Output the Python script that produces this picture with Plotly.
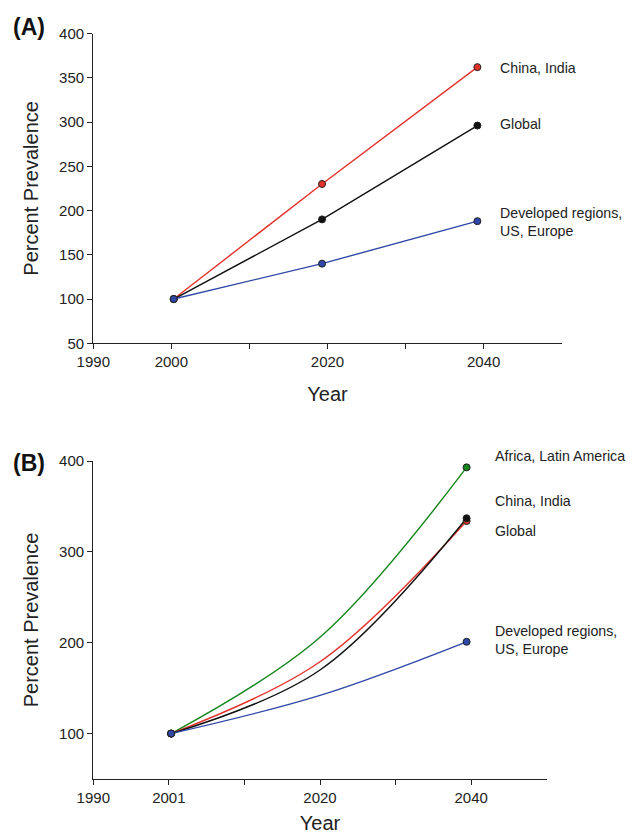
import plotly.graph_objects as go

W, H = 633, 834

# ---- Data: panel A ----
years_a = [2000.3, 2019.3, 2039.2]
china_india_a = [100, 230, 362]
global_a = [100, 190, 296]
developed_a = [100, 140, 188]

# ---- Data: panel B ----
years_b = [2000.3, 2020, 2039.4]
africa_latam_b = [100, 206, 393]
china_india_b = [100, 179, 334]
global_b = [100, 170, 337]
developed_b = [100, 142, 201]

x_tickvals = [1990, 2000, 2010, 2020, 2030, 2040]
x_ticktext_a = ["1990", "2000", "", "2020", "", "2040"]
x_ticktext_b = ["1990", "2001", "", "2020", "", "2040"]
y_ticks_a = [50, 100, 150, 200, 250, 300, 350, 400]
y_ticks_b = [100, 200, 300, 400]

RED = "#e3322b"
BLACK = "#111111"
BLUE = "#2f47a6"
GREEN = "#14861c"
FONT = "Liberation Sans, Arial, sans-serif"
TXT = "#222222"


def px(x):
    return x / W


def py(y):
    return 1 - y / H


fig = go.Figure()

# Panel A traces
for yv, col in [(china_india_a, RED), (global_a, BLACK), (developed_a, BLUE)]:
    fig.add_trace(go.Scatter(
        x=years_a, y=yv, mode="lines+markers", xaxis="x", yaxis="y",
        line=dict(color=col, width=1.4),
        marker=dict(size=7, color=col, line=dict(color="#222222", width=1)),
        showlegend=False, hoverinfo="x+y"))

# Panel B traces
for yv, col in [(africa_latam_b, GREEN), (china_india_b, RED), (global_b, BLACK), (developed_b, BLUE)]:
    fig.add_trace(go.Scatter(
        x=years_b, y=yv, mode="lines", xaxis="x2", yaxis="y2",
        line=dict(color=col, width=1.4, shape="spline", smoothing=1.0),
        showlegend=False, hoverinfo="x+y"))
for yv, col in [(africa_latam_b, GREEN), (china_india_b, RED), (global_b, BLACK), (developed_b, BLUE)]:
    fig.add_trace(go.Scatter(
        x=[years_b[0], years_b[-1]], y=[yv[0], yv[-1]], mode="markers",
        xaxis="x2", yaxis="y2",
        marker=dict(size=7, color=col, line=dict(color="#222222", width=1)),
        showlegend=False, hoverinfo="x+y"))

axis_common = dict(
    showgrid=False, zeroline=False, showline=True, linecolor="#222222",
    linewidth=1.3, ticks="outside", ticklen=5, tickwidth=1.2, tickcolor="#222222",
    tickfont=dict(family=FONT, size=15, color=TXT), automargin=False,
)

fig.update_layout(
    width=W, height=H,
    margin=dict(l=0, r=0, t=0, b=0, autoexpand=False),
    paper_bgcolor="white", plot_bgcolor="white",
    font=dict(family=FONT, color=TXT),
    xaxis=dict(domain=[px(93.3), px(561.7)], range=[1990, 2050], anchor="y",
               tickmode="array", tickvals=x_tickvals, ticktext=x_ticktext_a,
               title=dict(text="Year", font=dict(family=FONT, size=20, color=TXT), standoff=17),
               **axis_common),
    yaxis=dict(domain=[py(343.3), py(33.5)], range=[50, 400], anchor="x",
               tickmode="array", tickvals=y_ticks_a,
               title=dict(text="Percent Prevalence", font=dict(family=FONT, size=20, color=TXT), standoff=15),
               **axis_common),
    xaxis2=dict(domain=[px(93.3), px(546.7)], range=[1990, 2050], anchor="y2",
                tickmode="array", tickvals=x_tickvals, ticktext=x_ticktext_b,
                title=dict(text="Year", font=dict(family=FONT, size=20, color=TXT), standoff=12),
                **axis_common),
    yaxis2=dict(domain=[py(779), py(461)], range=[50, 400], anchor="x2",
                tickmode="array", tickvals=y_ticks_b,
                title=dict(text="Percent Prevalence", font=dict(family=FONT, size=20, color=TXT), standoff=15),
                **axis_common),
)

labels = [
    ("China, India", 497.7, 67.7),
    ("Global", 497.7, 124.3),
    ("Developed regions,<br>US, Europe", 497.7, 221.7),
    ("Africa, Latin America", 493.3, 455.7),
    ("China, India", 493.3, 501),
    ("Global", 493.3, 530.7),
    ("Developed regions,<br>US, Europe", 493.3, 639.5),
]
for text, x, y in labels:
    fig.add_annotation(text=text, x=px(x), y=py(y), xref="paper", yref="paper",
                       xanchor="left", yanchor="middle", showarrow=False, align="left",
                       font=dict(family=FONT, size=14.2, color=TXT))

for text, y in [("(A)", 27), ("(B)", 463)]:
    fig.add_annotation(text="<b>" + text + "</b>", x=px(11), y=py(y), xref="paper", yref="paper",
                       xanchor="left", yanchor="middle", showarrow=False,
                       font=dict(family=FONT, size=23, color="#111111"))

fig.write_html(
    "out.html",
    config={"displayModeBar": False},
    post_script="document.body.style.margin='0px';document.body.style.overflow='hidden';",
)
